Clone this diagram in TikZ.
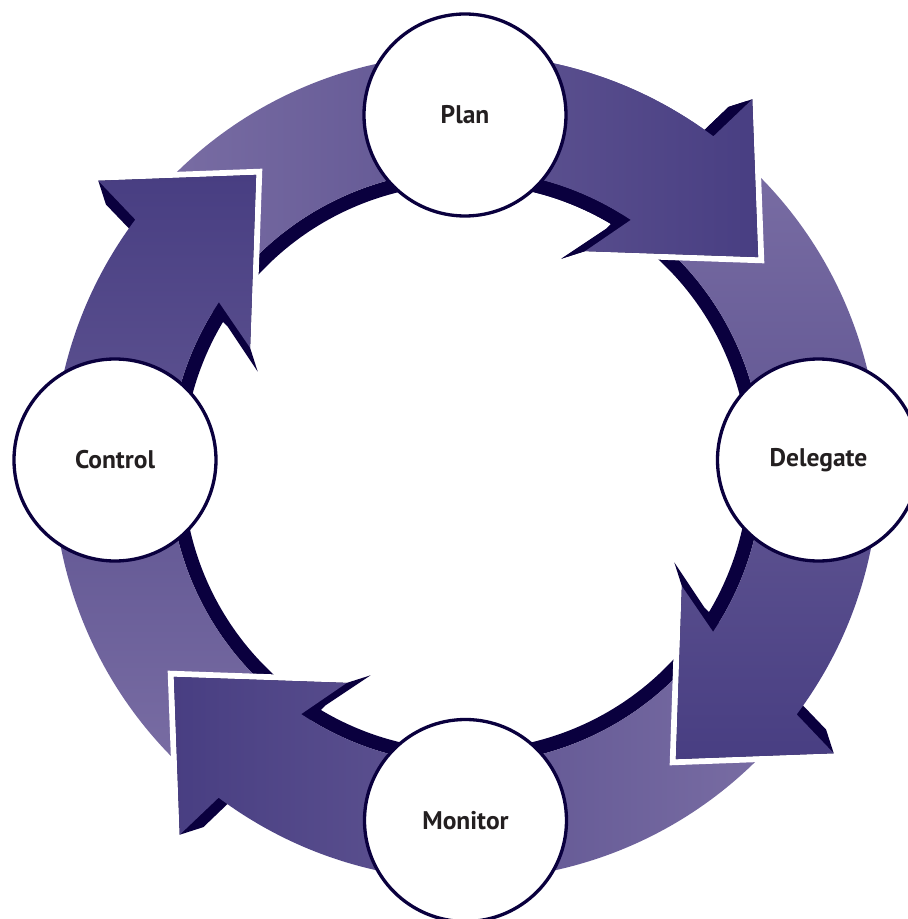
\documentclass[tikz,border=0pt]{standalone}
\usepackage{fontspec}
\setmainfont{PT Sans}
\definecolor{cyclelight}{RGB}{122,110,164}
\definecolor{cycledark}{RGB}{72,62,130}
\definecolor{cycleshadow}{RGB}{10,0,62}
\definecolor{labeltext}{RGB}{35,31,32}
\newcommand\cyclearrow[2]{%
  \draw[headgap] ({#1+52.1}:466) -- ({#1+35.7}:359.7) -- ({#1+61.1}:246.6);
  \fill[cycleshadow] ({#1+140}:297) arc[start angle={#1+140}, end angle={#1+57}, radius=297]
    -- ({#1+57}:283) arc[start angle={#1+57}, end angle={#1+140}, radius=283] -- cycle;
  \fill[cycleshadow] ({#1+53.9}:445.7) -- ({#1+52.1}:466) -- ({#1+35.7}:359.7) -- ({#1+61.1}:246.6)
    -- ({#1+65.4}:229.1) -- ({#1+59.5}:276.5) -- ({#1+55.3}:392.1) -- cycle;
  \shade[top color=cyclelight, bottom color=cycledark, shading angle=#2]
    ({#1+140}:413) arc[start angle={#1+140}, end angle={#1+53.2}, radius=413]
    -- ({#1+52.1}:466) -- ({#1+35.7}:359.7) -- ({#1+61.1}:246.6) -- ({#1+56.3}:297)
    arc[start angle={#1+56.3}, end angle={#1+140}, radius=297] -- cycle;
}
\begin{document}
\begin{tikzpicture}[
  x=1pt, y=1pt,
  headgap/.style = {white, line width=12, line join=miter},
  stage/.style = {shape=circle, draw=cycleshadow, line width=3.3pt, fill=white,
    minimum size=202pt, inner sep=0pt, text=labeltext,
    font=\fontsize{25.5}{30}\selectfont\bfseries}
  ]
  \useasboundingbox (-466,-452) rectangle (442,467);
  \clip (-466,-452) rectangle (442,467);
  \foreach \o/\sa in {0/90, -270/180, -180/270, -90/0}
    {\cyclearrow{\o}{\sa}}
  \begin{scope}
    \clip (0,-100) rectangle (442,467);
    \cyclearrow{0}{90}
  \end{scope}
  \node[stage] (plan) at (-1,352) {Plan};
  \node[stage] (delegate) at (352.5,7) {Delegate};
  \node[stage] (monitor) at (-0.5,-353.5) {Monitor};
  \node[stage] (control) at (-351,7) {Control};
\end{tikzpicture}
\end{document}
